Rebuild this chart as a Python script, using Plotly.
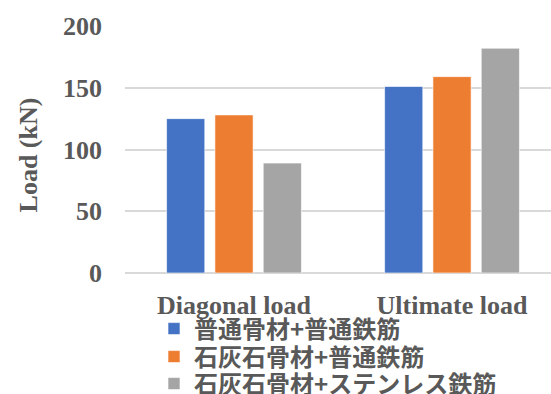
import plotly.graph_objects as go

categories = ["Diagonal load", "Ultimate load"]
series_names = ["普通骨材+普通鉄筋", "石灰石骨材+普通鉄筋", "石灰石骨材+ステンレス鉄筋"]
values_normal = [125, 151]
values_limestone = [128, 159]
values_stainless = [89, 182]
series_values = [values_normal, values_limestone, values_stainless]
colors = ["#4472C4", "#ED7D31", "#A5A5A5"]
y_ticks = [0, 50, 100, 150, 200]
y_title = "Load (kN)"

W, H = 551, 394
fig = go.Figure()
legend_ids = ["legend", "legend2", "legend3"]
for name, vals, col, lg in zip(series_names, series_values, colors, legend_ids):
    fig.add_trace(go.Bar(x=categories, y=vals, name=name, legend=lg,
                         marker=dict(color=col, line=dict(color="rgba(255,255,255,0.6)", width=1))))

serif = dict(family="Liberation Serif, Times New Roman, serif", color="#595959", size=26, weight="bold")
leg_font = dict(family="Noto Sans CJK JP, sans-serif", color="#595959", size=24)
row_y = [329, 357, 384]
legends = {}
for lg, ry in zip(legend_ids, row_y):
    legends[lg] = dict(x=154 / W, y=1 - ry / H, xref="container", yref="container",
                       xanchor="left", yanchor="middle", font=leg_font,
                       bgcolor="rgba(0,0,0,0)", borderwidth=0, tracegroupgap=0)

fig.update_layout(
    width=W, height=H,
    margin=dict(l=125, r=0, t=26, b=121, autoexpand=False),
    paper_bgcolor="white", plot_bgcolor="white",
    barmode="group", bargap=0.335, bargroupgap=0.21,
    font=serif,
    showlegend=True,
    **legends,
    xaxis=dict(range=[-0.5, 1.454], showgrid=False, showline=False, ticks="",
               tickfont=serif, tickangle=0, automargin=False, ticklabelstandoff=14),
    yaxis=dict(range=[0, 200], tickvals=y_ticks, showgrid=True, gridcolor="#D9D9D9",
               gridwidth=1.5, zeroline=True, zerolinecolor="#D9D9D9", zerolinewidth=1.5,
               showline=False, ticks="", tickfont=serif, ticklabelstandoff=22, automargin=False),
    annotations=[dict(text=y_title, xref="paper", yref="paper", x=0, y=0.476,
                      xshift=-97, textangle=-90, showarrow=False, font=serif,
                      xanchor="center", yanchor="middle")],
)
fig.write_html("out.html")
